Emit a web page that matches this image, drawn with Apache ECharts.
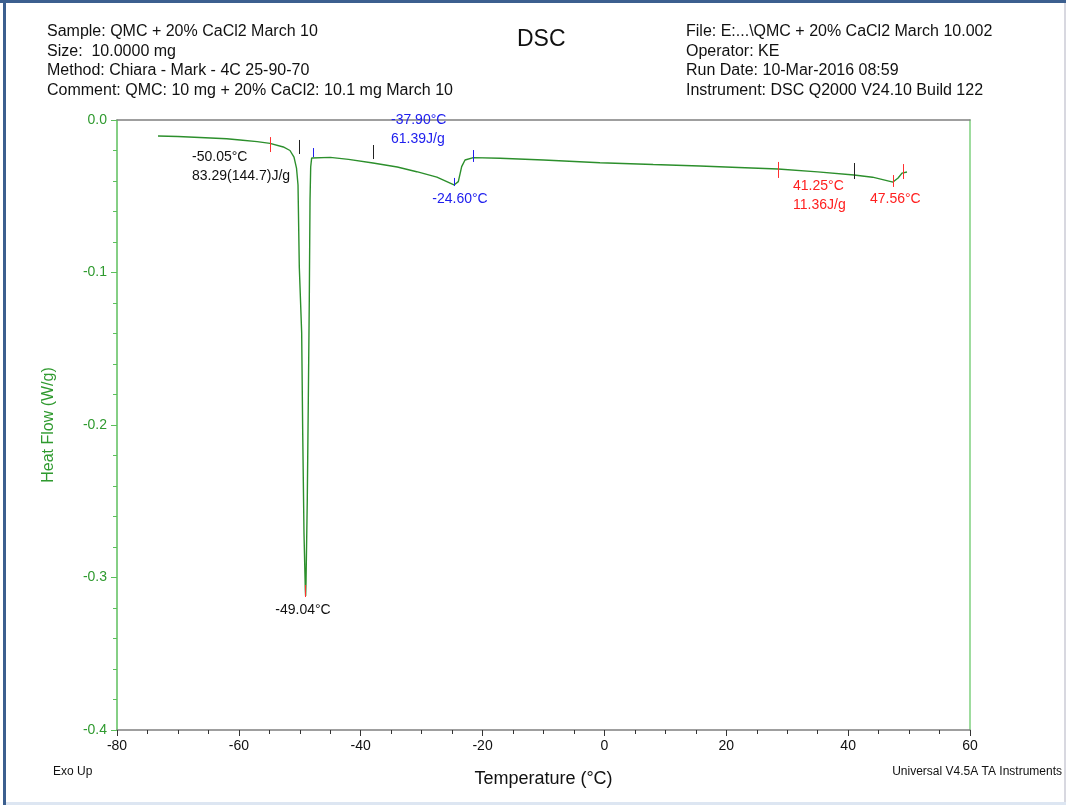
<!DOCTYPE html>
<html>
<head>
<meta charset="utf-8">
<title>DSC</title>
<script src="https://cdn.jsdelivr.net/npm/echarts@6/dist/echarts.min.js"></script>
<style>
    html, body { margin: 0; padding: 0; background: #fff; }
    #main { width: 1066px; height: 805px; }
</style>
</head>
<body>
<div id="main"></div>
<script>
// heat flow curve, [temperature °C, W/g]
var curve = [
    [-73.27, -0.0105], [-70, -0.0108], [-66.4, -0.0115], [-62, -0.0123], [-59.8, -0.0131],
    [-57, -0.0142], [-54.89, -0.0153], [-52.7, -0.0177], [-51.61, -0.0200], [-50.95, -0.0243],
    [-50.54, -0.0315], [-50.29, -0.0426], [-50.08, -0.0964], [-49.69, -0.1397], [-49.52, -0.2052],
    [-49.31, -0.2708], [-49.09, -0.3082], [-49.04, -0.3121], [-48.98, -0.3036], [-48.77, -0.2492],
    [-48.60, -0.1836], [-48.44, -0.1180], [-48.32, -0.0525], [-48.21, -0.0308], [-48.05, -0.0249],
    [-47.78, -0.0236], [-45, -0.0245], [-42, -0.0258], [-37.98, -0.0282], [-34, -0.0308],
    [-30.81, -0.0339], [-27.5, -0.0375], [-24.69, -0.0426], [-23.98, -0.0404], [-23.43, -0.0306],
    [-22.88, -0.0262], [-21.52, -0.0247], [-17.14, -0.0251], [-10, -0.0262], [-0.73, -0.0280],
    [8, -0.0292], [15.68, -0.0302], [22, -0.0311], [28.49, -0.0321], [35, -0.0340],
    [40.96, -0.0361], [44, -0.0375], [47.36, -0.0407], [48.2, -0.0380], [48.84, -0.0348],
    [49.66, -0.0341]
];

// analysis markers: [temperature, top, bottom, colour]
var markers = [
    [-54.89, -0.0112, -0.0210, '#ff3030'],
    [-50.05, -0.0131, -0.0223, '#222222'],
    [-47.78, -0.0184, -0.0243, '#2020ee'],
    [-37.93, -0.0164, -0.0256, '#222222'],
    [-24.60, -0.0380, -0.0433, '#2020ee'],
    [-21.52, -0.0197, -0.0275, '#2020ee'],
    [28.49, -0.0275, -0.0380, '#ff3030'],
    [40.96, -0.0282, -0.0387, '#222222'],
    [47.36, -0.0361, -0.0439, '#ff3030'],
    [48.98, -0.0289, -0.0387, '#ff3030'],
    [-49.04, -0.3049, -0.3128, '#ff3030']
];

// annotations: [temperature, value, text, colour, align]
var notes = [
    [-67.69, -0.0308, '-50.05°C\n83.29(144.7)J/g', '#111111', 'left'],
    [-35.03, -0.0066, '-37.90°C\n61.39J/g', '#2020ee', 'left'],
    [-23.71, -0.0518, '-24.60°C', '#2020ee', 'center'],
    [30.95, -0.0498, '41.25°C\n11.36J/g', '#ff2020', 'left'],
    [43.58, -0.0518, '47.56°C', '#ff2020', 'left'],
    [-49.47, -0.3213, '-49.04°C', '#111111', 'center']
];

var xTicks = { min: -80, max: 60, step: 20 };
var yTicks = { min: -0.4, max: 0, step: 0.1 };

var headerLeft = [
    'Sample: QMC + 20% CaCl2 March 10',
    'Size:  10.0000 mg',
    'Method: Chiara - Mark - 4C 25-90-70',
    'Comment: QMC: 10 mg + 20% CaCl2: 10.1 mg March 10'
];
var headerRight = [
    'File: E:...\\QMC + 20% CaCl2 March 10.002',
    'Operator: KE',
    'Run Date: 10-Mar-2016 08:59',
    'Instrument: DSC Q2000 V24.10 Build 122'
];

var green = '#2f9a2f';
var font = 'Liberation Sans, Arial, sans-serif';

var myChart = echarts.init(document.getElementById('main'));

var markLineData = markers.map(function (m) {
    return [
        { coord: [m[0], m[1]], lineStyle: { color: m[3], width: 1, type: 'solid' } },
        { coord: [m[0], m[2]] }
    ];
});

var markPointData = notes.map(function (n) {
    return {
        coord: [n[0], n[1]],
        value: n[2],
        label: {
            formatter: n[2],
            color: n[3],
            align: n[4]
        }
    };
});

var option = {
    backgroundColor: '#fff',
    animation: false,
    textStyle: { fontFamily: font },
    grid: { left: 117, right: 96, top: 120, bottom: 75 },
    graphic: [
        { type: 'rect', shape: { x: 0, y: 0, width: 1066, height: 3 }, style: { fill: '#3c5f8f' } },
        { type: 'rect', shape: { x: 3, y: 0, width: 3, height: 805 }, style: { fill: '#3c5f8f' } },
        { type: 'rect', shape: { x: 1064, y: 3, width: 2, height: 802 }, style: { fill: '#d8d8e0' } },
        { type: 'rect', shape: { x: 6, y: 802, width: 1060, height: 3 }, style: { fill: '#dde6f2' } },
        {
            type: 'text', left: 47, top: 22,
            style: { text: headerLeft.join('\n'), font: '16px ' + font, fill: '#111', lineHeight: 19.5 }
        },
        {
            type: 'text', left: 686, top: 22,
            style: { text: headerRight.join('\n'), font: '16px ' + font, fill: '#111', lineHeight: 19.5 }
        },
        {
            type: 'text', left: 517, top: 28,
            style: { text: 'DSC', font: '23px ' + font, fill: '#111' }
        },
        {
            type: 'text', left: 53, top: 766,
            style: { text: 'Exo Up', font: '12px ' + font, fill: '#111' }
        },
        {
            type: 'text', right: 4, top: 766,
            style: { text: 'Universal V4.5A TA Instruments', font: '12px ' + font, fill: '#111' }
        }
    ],
    xAxis: [{
        type: 'value',
        min: xTicks.min, max: xTicks.max, interval: xTicks.step,
        position: 'bottom',
        name: 'Temperature (°C)',
        nameLocation: 'middle',
        nameGap: 40,
        nameTextStyle: { fontSize: 18, color: '#111', fontFamily: font },
        axisLine: { onZero: false, lineStyle: { color: '#808080', width: 1.5 } },
        axisTick: { show: true, length: 6, lineStyle: { color: '#333' } },
        minorTick: { show: true, splitNumber: 4, length: 4, lineStyle: { color: '#333' } },
        axisLabel: { fontSize: 14, color: '#111', margin: 9 },
        splitLine: { show: false }
    }, {
        type: 'value',
        min: xTicks.min, max: xTicks.max,
        position: 'top',
        axisLine: { onZero: false, lineStyle: { color: '#808080', width: 1.5 } },
        axisTick: { show: false },
        axisLabel: { show: false },
        splitLine: { show: false }
    }],
    yAxis: [{
        type: 'value',
        min: yTicks.min, max: yTicks.max, interval: yTicks.step,
        position: 'left',
        name: 'Heat Flow (W/g)',
        nameLocation: 'middle',
        nameGap: 60,
        nameRotate: 90,
        nameTextStyle: { fontSize: 16, color: green, fontFamily: font },
        axisLine: { onZero: false, lineStyle: { color: '#5cbf5c', width: 1.5 } },
        axisTick: { show: true, length: 6, lineStyle: { color: '#5cbf5c' } },
        minorTick: { show: true, splitNumber: 5, length: 4, lineStyle: { color: '#5cbf5c' } },
        axisLabel: {
            fontSize: 14, color: green, margin: 10,
            formatter: function (v) { return v.toFixed(1); }
        },
        splitLine: { show: false }
    }, {
        type: 'value',
        min: yTicks.min, max: yTicks.max,
        position: 'right',
        axisLine: { show: true, onZero: false, lineStyle: { color: '#7fd07f', width: 1.5 } },
        axisTick: { show: false },
        axisLabel: { show: false },
        splitLine: { show: false }
    }],
    series: [{
        type: 'line',
        data: curve,
        showSymbol: false,
        smooth: false,
        lineStyle: { color: '#2c8f2c', width: 1.4 },
        markLine: {
            silent: true,
            symbol: ['none', 'none'],
            label: { show: false },
            data: markLineData
        },
        markPoint: {
            silent: true,
            symbol: 'circle',
            symbolSize: 0,
            label: {
                show: true,
                position: 'inside',
                verticalAlign: 'middle',
                fontSize: 14,
                lineHeight: 19,
                fontFamily: font
            },
            data: markPointData
        }
    }]
};

myChart.setOption(option);
</script>
</body>
</html>
